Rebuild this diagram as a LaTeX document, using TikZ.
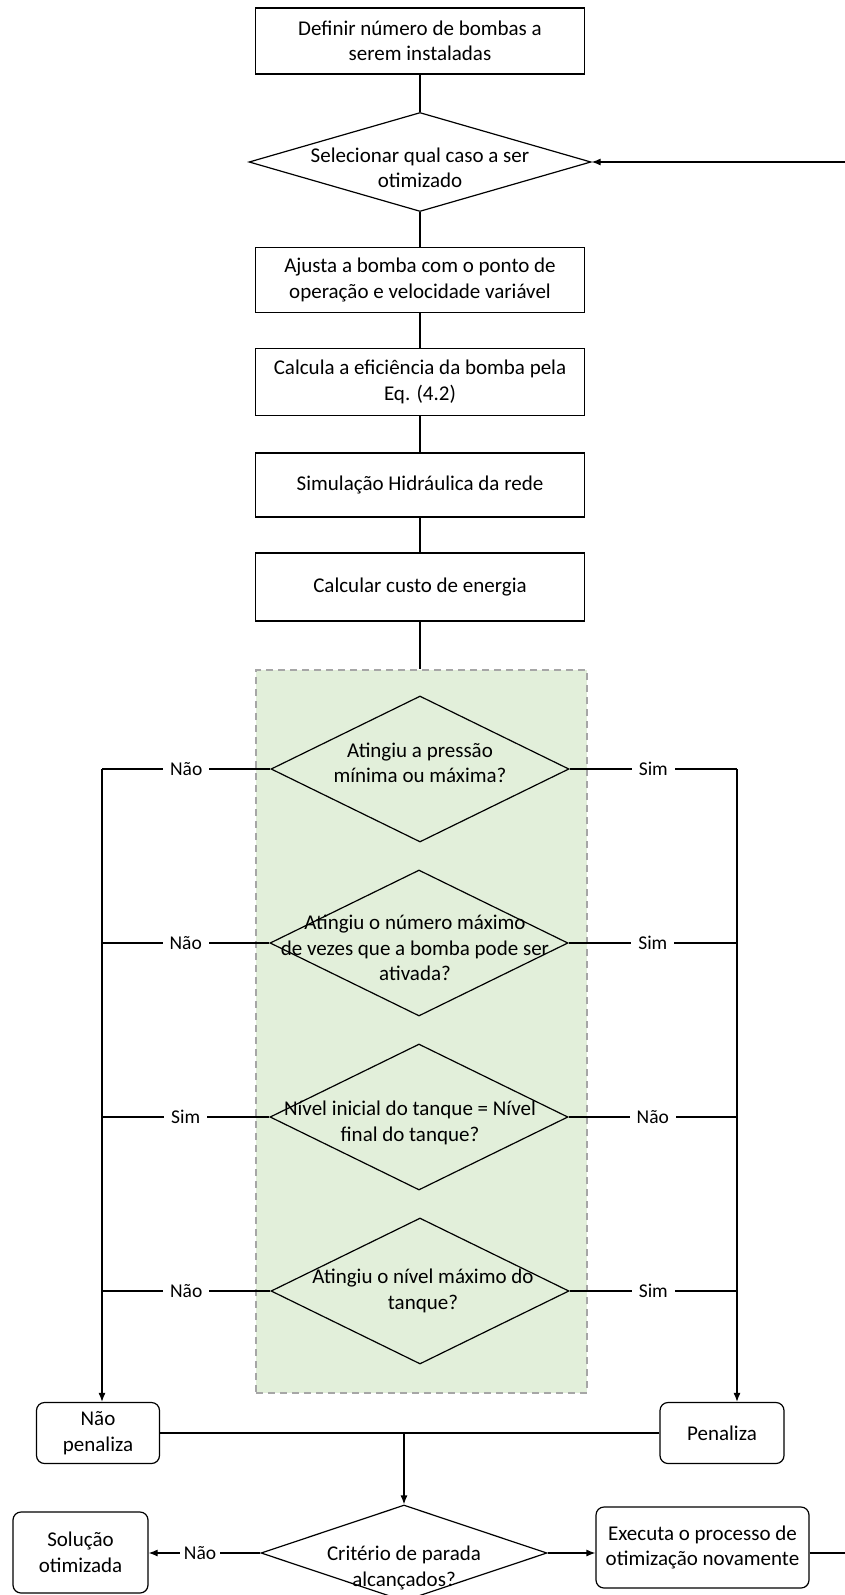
\documentclass[tikz,border=0pt]{standalone}
\usepackage{fontspec}
\setmainfont{Carlito}
\usetikzlibrary{shapes.geometric,arrows.meta}
\definecolor{grpfill}{HTML}{E2EFDA}
\definecolor{grpline}{HTML}{A6A6A6}
\begin{document}
\begin{tikzpicture}[x=1pt,y=-1pt,
  every node/.style={font=\fontsize{21}{25.5}\selectfont, text=black},
  box/.style={draw, line width=1.2pt, minimum width=329pt, inner sep=2pt, align=center},
  rbox/.style={draw, line width=1.2pt, rounded corners=8pt, inner sep=2pt, align=center},
  dia/.style={draw, diamond, line width=1.2pt, minimum width=298pt, minimum height=146pt, inner sep=0pt},
  dtext/.style={align=center, inner sep=0pt},
  ln/.style={line width=1.2pt},
  arr/.style={line width=1.2pt, -{Latex[length=9pt,width=7pt]}},
  lab/.style={fill=white, font=\fontsize{19.5}{22}\selectfont, inner xsep=7pt, inner ysep=1pt},
  grp/.style={draw=grpline, fill=grpfill, line width=1.5pt, dash pattern=on 7pt off 5pt, inner sep=0pt}
]
\useasboundingbox (0,0) rectangle (845,1595);

% green group
\node[grp, minimum width=331pt, minimum height=723pt] (grp) at (421.5,1031.5) {};

% top chain
\node[box, minimum height=66pt] (b1) at (420,41) {Definir número de bombas a\\serem instaladas};
\node[dia, minimum width=342pt, minimum height=99pt] (d0) at (420,162) {};
\node[dtext] (d0t) at (420,168) {Selecionar qual caso a ser\\otimizado};
\node[box, minimum height=65pt] (b2) at (420,280) {Ajusta a bomba com o ponto de\\operação e velocidade variável};
\node[box, minimum height=67pt] (b3) at (420,382) {Calcula a eficiência da bomba pela\\Eq. (4.2)};
\node[box, minimum height=64pt] (b4) at (420,485) {Simulação Hidráulica da rede};
\node[box, minimum height=68pt] (b5) at (420,587) {Calcular custo de energia};

\draw[ln] (b1) -- (d0);
\draw[ln] (d0) -- (b2);
\draw[ln] (b2) -- (b3);
\draw[ln] (b3) -- (b4);
\draw[ln] (b4) -- (b5);
\draw[ln] (b5) -- (grp.north -| b5.south);

% decision diamonds
\node[dia] (d1) at (420,769) {};
\node[dtext] (d1t) at (420,763) {Atingiu a pressão\\mínima ou máxima?};
\node[dia] (d2) at (419,943) {};
\node[dtext] (d2t) at (415,948) {Atingiu o número máximo\\de vezes que a bomba pode ser\\ativada?};
\node[dia] (d3) at (419,1117) {};
\node[dtext] (d3t) at (410,1123) {Nível inicial do tanque = Nível\\final do tanque?};
\node[dia] (d4) at (420,1291) {};
\node[dtext] (d4t) at (423,1291) {Atingiu o nível máximo do\\tanque?};

\coordinate (lx) at (102,769);
\coordinate (rx) at (737,769);

\draw[ln] (d1.west) -- node[lab]{Não} (d1.west -| lx);
\draw[ln] (d2.west) -- node[lab]{Não} (d2.west -| lx);
\draw[ln] (d3.west) -- node[lab]{Sim} (d3.west -| lx);
\draw[ln] (d4.west) -- node[lab]{Não} (d4.west -| lx);
\draw[ln] (d1.east) -- node[lab]{Sim} (d1.east -| rx);
\draw[ln] (d2.east) -- node[lab]{Sim} (d2.east -| rx);
\draw[ln] (d3.east) -- node[lab]{Não} (d3.east -| rx);
\draw[ln] (d4.east) -- node[lab]{Sim} (d4.east -| rx);

% outcome boxes
\node[rbox, minimum width=123pt, minimum height=61pt] (np) at (98,1433) {Não\\penaliza};
\node[rbox, minimum width=124pt, minimum height=61pt] (pen) at (722,1433) {Penaliza};

\draw[arr] (lx) -- (lx |- np.north);
\draw[arr] (rx) -- (rx |- pen.north);
\draw[ln] (np.east) -- (pen.west);

% stopping criterion
\coordinate (mid) at (404,1433);
\node[dia, minimum width=286pt, minimum height=96pt] (crit) at (404,1553) {};
\node[dtext] (critt) at (404,1568) {Critério de parada\\alcançados?};
\node[rbox, minimum width=135pt, minimum height=81pt] (sol) at (80.5,1552.5) {Solução\\otimizada};
\node[rbox, minimum width=213pt, minimum height=81pt] (exec) at (702.5,1547.5) {Executa o processo de\\otimização novamente};

\draw[arr] (mid) -- (mid |- crit.north);
\draw[arr] (crit.west) -- node[lab, inner xsep=4pt, pos=0.54]{Não} (crit.west -| sol.east);
\draw[arr] (crit.east) -- (crit.east -| exec.west);
\draw[arr] (crit.east -| exec.east) -- ++(50,0) |- (d0.east);
\end{tikzpicture}
\end{document}
